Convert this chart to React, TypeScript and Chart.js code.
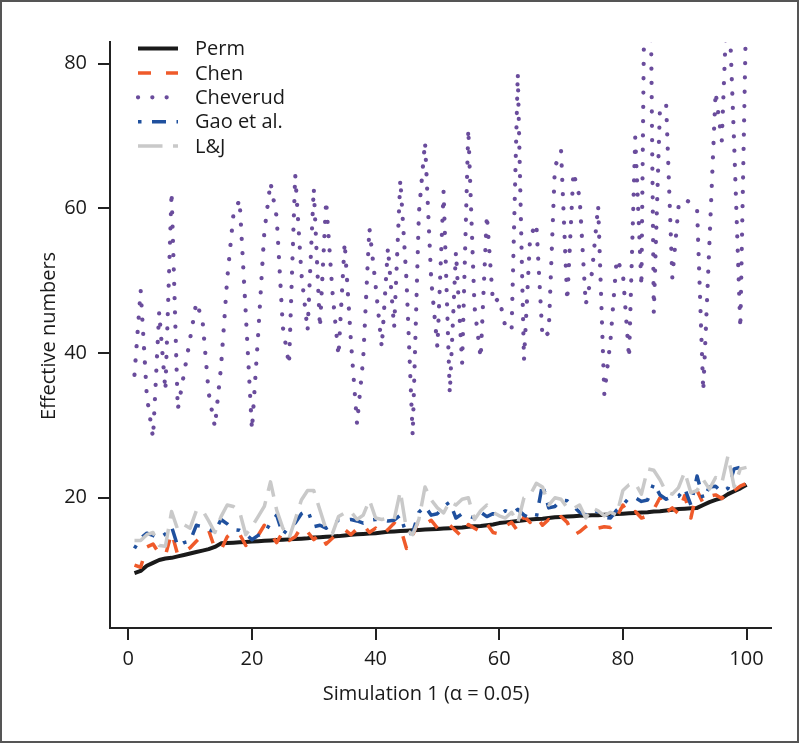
import React, { useEffect, useRef } from "react";
import { Chart, registerables } from "chart.js";

Chart.register(...registerables);

// x categories: simulation index 1..100
const simIndex: number[] = Array.from({ length: 100 }, (_, i) => i + 1);

const xTicks = [0, 20, 40, 60, 80, 100];
const yTicks = [20, 40, 60, 80];

const seriesNames = ["Perm", "Chen", "Cheverud", "Gao et al.", "L&J"];

const perm = [
  9.6, 9.9, 10.6, 11.0, 11.4, 11.6, 11.7, 11.9, 12.1, 12.3,
  12.5, 12.7, 12.9, 13.2, 13.7, 13.75, 13.8, 13.85, 13.9, 13.95,
  14.0, 14.05, 14.1, 14.15, 14.2, 14.25, 14.3, 14.35, 14.4, 14.5,
  14.55, 14.6, 14.65, 14.7, 14.8, 14.9, 14.95, 15.0, 15.05, 15.1,
  15.2, 15.3, 15.35, 15.4, 15.45, 15.5, 15.55, 15.6, 15.65, 15.7,
  15.75, 15.8, 15.85, 15.9, 16.0, 16.05, 16.1, 16.2, 16.3, 16.5,
  16.6, 16.7, 16.8, 16.9, 17.0, 17.05, 17.1, 17.2, 17.3, 17.35,
  17.4, 17.45, 17.5, 17.55, 17.6, 17.6, 17.65, 17.7, 17.75, 17.8,
  17.85, 17.9, 17.95, 18.0, 18.1, 18.15, 18.25, 18.35, 18.45, 18.5,
  18.55, 18.6, 19.0, 19.4, 19.7, 19.95, 20.5, 20.9, 21.3, 21.8,
];

const chen = [
  10.7, 10.4, 13.2, 13.6, 12.3, 12.0, 15.2, 12.1, 12.6, 13.1,
  14.0, 14.8, 15.5, 13.0, 12.8, 14.6, 15.4, 15.0, 13.4, 14.3,
  14.8, 16.2, 15.0, 13.8, 15.3, 14.1, 14.6, 16.0, 15.3, 14.2,
  15.1, 13.6, 14.4, 15.3, 15.6, 14.9, 15.7, 16.3, 15.2, 15.8,
  14.8, 15.6, 16.5, 15.9, 13.0, 14.8, 17.0, 16.4, 16.9, 15.8,
  15.5, 16.2, 15.4, 14.6, 16.3, 15.8, 15.3, 16.4, 15.2, 15.0,
  16.1, 16.6, 15.4, 17.4, 16.6, 17.5, 16.2, 17.0, 16.4, 17.4,
  16.6, 14.8, 15.3, 16.0, 16.6, 15.8, 16.0, 15.9, 17.3, 19.0,
  17.6, 18.1, 17.2, 17.5, 18.4, 20.0, 18.0, 18.6, 17.8, 20.3,
  17.2, 21.0, 19.2, 20.2, 20.4, 19.9, 21.2, 21.0, 21.6, 22.0,
];

const cheverud = [
  37.0, 48.7, 34.0, 28.3, 45.7, 34.8, 62.3, 32.2, 37.1, 42.0,
  47.0, 44.6, 34.5, 29.8, 38.1, 50.3, 59.1, 61.2, 45.5, 29.4,
  42.5, 56.7, 63.6, 58.8, 43.6, 38.4, 64.7, 51.0, 43.1, 62.8,
  43.5, 61.1, 48.7, 39.6, 55.3, 41.8, 30.2, 39.3, 57.3, 49.4,
  40.8, 54.6, 43.5, 64.0, 50.1, 28.6, 59.3, 69.2, 50.1, 40.8,
  62.4, 34.4, 54.0, 38.6, 71.0, 46.4, 39.3, 59.1, 46.9, 47.6,
  43.6, 43.1, 78.7, 39.0, 56.1, 57.9, 42.1, 42.8, 65.7, 68.0,
  47.2, 65.0, 61.6, 46.7, 51.1, 60.4, 34.3, 41.8, 53.0, 51.1,
  39.3, 69.8, 49.2, 134.0, 45.6, 73.9, 74.4, 50.4, 60.2, 61.3,
  60.7, 60.0, 34.7, 55.2, 76.1, 69.4, 92.4, 68.9, 43.4, 90.5,
];

const gao = [
  13.0, 14.4, 15.1, 14.8, 14.4, 15.0, 16.0, 13.3, 13.8, 14.0,
  16.2, 16.0, 15.6, 15.3, 17.0, 16.4, 15.6, 15.5, 15.0, 14.2,
  14.8, 15.1, 16.5, 17.6, 14.9, 16.0, 16.5, 17.8, 18.3, 16.0,
  16.2, 15.8, 16.3, 16.9, 16.9, 17.0, 16.8, 16.5, 16.9, 17.0,
  17.0, 16.8, 16.9, 17.6, 14.9, 15.2, 18.0, 18.8, 17.6, 17.8,
  18.8, 19.4, 17.2, 17.8, 17.5, 17.2, 18.0, 17.4, 17.8, 17.6,
  18.2, 17.8, 18.4, 17.6, 17.2, 17.3, 21.9, 18.6, 18.8, 19.7,
  19.6, 18.8, 18.0, 17.6, 18.4, 18.0, 17.3, 17.2, 18.3, 19.0,
  20.0, 20.0, 19.5, 19.7, 22.0, 20.4, 19.8, 20.2, 20.2, 21.3,
  19.0, 23.0, 19.8, 21.5, 21.6, 20.8, 21.3, 24.0, 24.2, 23.6,
];

const lj = [
  14.1, 14.1, 14.9, 15.2, 13.4, 13.3, 18.1, 15.6, 16.3, 15.8,
  18.2, 18.3, 16.8, 15.2, 17.4, 19.0, 18.8, 18.1, 14.9, 16.0,
  17.4, 18.8, 22.2, 18.3, 15.8, 14.4, 17.0, 19.7, 21.0, 21.0,
  18.3, 15.6, 15.0, 17.4, 17.9, 18.1, 17.0, 17.6, 19.7, 17.2,
  17.0, 17.2, 17.0, 20.9, 15.6, 14.9, 17.0, 21.5, 19.7, 18.6,
  17.9, 19.5, 19.0, 19.8, 20.0, 17.0, 18.2, 19.0, 18.0, 17.5,
  17.2, 18.0, 16.5, 20.0, 20.4, 22.0, 21.5, 19.0, 20.0, 19.8,
  18.6, 18.5, 19.0, 17.2, 18.6, 18.2, 17.5, 18.0, 17.6, 21.0,
  21.8, 22.0, 20.5, 24.0, 23.8, 22.5, 20.8, 20.5, 21.4, 23.6,
  20.7, 21.0, 22.5, 21.2, 22.8, 22.0, 25.8, 21.5, 24.0, 24.2,
];

const FONT = "'Open Sans', 'Noto Sans', sans-serif";
const FONT_SIZE = 20;
const TEXT_COLOR = "#1a1a1a";

export default function App() {
  const ref = useRef<HTMLCanvasElement>(null);

  useEffect(() => {
    const canvas = ref.current;
    if (!canvas) return;

    const seriesValues = [perm, chen, cheverud, gao, lj];
    const styles = [
      { color: "#1a1a1a", width: 4, dash: [] as number[], cap: "butt" },
      { color: "#ef5a2a", width: 3.5, dash: [13, 15], cap: "butt" },
      { color: "#6a4c9c", width: 4.2, dash: [0.1, 14.2], cap: "round" },
      { color: "#1f509e", width: 3.5, dash: [3.5, 10.5, 14, 10.5], cap: "butt" },
      { color: "#c9c9c9", width: 3.5, dash: [24.5, 10.5], cap: "butt" },
    ];

    const datasets = seriesNames.map((name, k) => ({
      label: name,
      data: simIndex.map((x, i) => ({ x, y: seriesValues[k][i] })),
      borderColor: styles[k].color,
      backgroundColor: styles[k].color,
      borderWidth: styles[k].width,
      borderDash: styles[k].dash,
      borderCapStyle: styles[k].cap as CanvasLineCap,
      borderJoinStyle: "round" as CanvasLineJoin,
      pointRadius: 0,
      tension: 0,
      fill: false,
      order: seriesNames.length - k,
    }));

    const decor = {
      id: "decor",
      beforeDraw(chart: any) {
        const ctx = chart.ctx;
        ctx.save();
        ctx.fillStyle = "#ffffff";
        ctx.fillRect(0, 0, chart.width, chart.height);
        ctx.restore();
      },
      afterDraw(chart: any) {
        const ctx = chart.ctx as CanvasRenderingContext2D;
        ctx.save();
        // outer frame
        ctx.strokeStyle = "#555555";
        ctx.lineWidth = 2;
        ctx.strokeRect(1, 1, 797, 741);

        // legend
        const rowY0 = 48.5;
        const rowStep = 24.4;
        seriesNames.forEach((name, k) => {
          const y = rowY0 + k * rowStep;
          ctx.beginPath();
          ctx.setLineDash(styles[k].dash);
          ctx.lineDashOffset = 0;
          ctx.lineCap = styles[k].cap as CanvasLineCap;
          ctx.lineWidth = styles[k].width;
          ctx.strokeStyle = styles[k].color;
          ctx.moveTo(138, y);
          ctx.lineTo(178, y);
          ctx.stroke();
          ctx.setLineDash([]);
          ctx.fillStyle = TEXT_COLOR;
          ctx.font = `${FONT_SIZE}px ${FONT}`;
          ctx.textAlign = "left";
          ctx.textBaseline = "middle";
          ctx.fillText(name, 195, y + 1);
        });

        // axis titles
        ctx.fillStyle = TEXT_COLOR;
        ctx.font = `${FONT_SIZE}px ${FONT}`;
        ctx.textAlign = "center";
        ctx.textBaseline = "alphabetic";
        ctx.fillText("Simulation 1 (\u03B1 = 0.05)", 426, 700);

        ctx.translate(55, 336);
        ctx.rotate(-Math.PI / 2);
        ctx.fillText("Effective numbers", 0, 0);
        ctx.restore();
      },
    };

    const chart = new Chart(canvas, {
      type: "line",
      data: { datasets: datasets as any },
      options: {
        responsive: false,
        animation: false,
        devicePixelRatio: 1,
        layout: { padding: { top: 42, right: 29, left: 0, bottom: 0 } },
        plugins: {
          legend: { display: false },
          tooltip: { enabled: false },
        },
        scales: {
          x: {
            type: "linear",
            min: -2.96,
            max: 103.96,
            afterBuildTicks: (s: any) => {
              s.ticks = xTicks.map((v) => ({ value: v }));
            },
            afterFit: (s: any) => {
              s.height = 743 - 628;
            },
            grid: {
              drawOnChartArea: false,
              drawTicks: true,
              tickLength: 12,
              color: "#222222",
              lineWidth: 2,
            },
            border: { display: true, color: "#222222", width: 2 },
            ticks: {
              color: TEXT_COLOR,
              padding: 7,
              maxRotation: 0,
              font: { family: FONT, size: FONT_SIZE },
            },
          },
          y: {
            type: "linear",
            min: 2,
            max: 83,
            afterBuildTicks: (s: any) => {
              s.ticks = yTicks.map((v) => ({ value: v }));
            },
            afterFit: (s: any) => {
              s.width = 110;
            },
            grid: {
              drawOnChartArea: false,
              drawTicks: true,
              tickLength: 12,
              color: "#222222",
              lineWidth: 2,
            },
            border: { display: true, color: "#222222", width: 2 },
            ticks: {
              color: TEXT_COLOR,
              padding: 11,
              font: { family: FONT, size: FONT_SIZE },
            },
          },
        },
      } as any,
      plugins: [decor],
    });

    return () => chart.destroy();
  }, []);

  return (
    <canvas
      ref={ref}
      width={800}
      height={743}
      style={{ position: "absolute", left: 0, top: 0, width: 800, height: 743 }}
    />
  );
}
